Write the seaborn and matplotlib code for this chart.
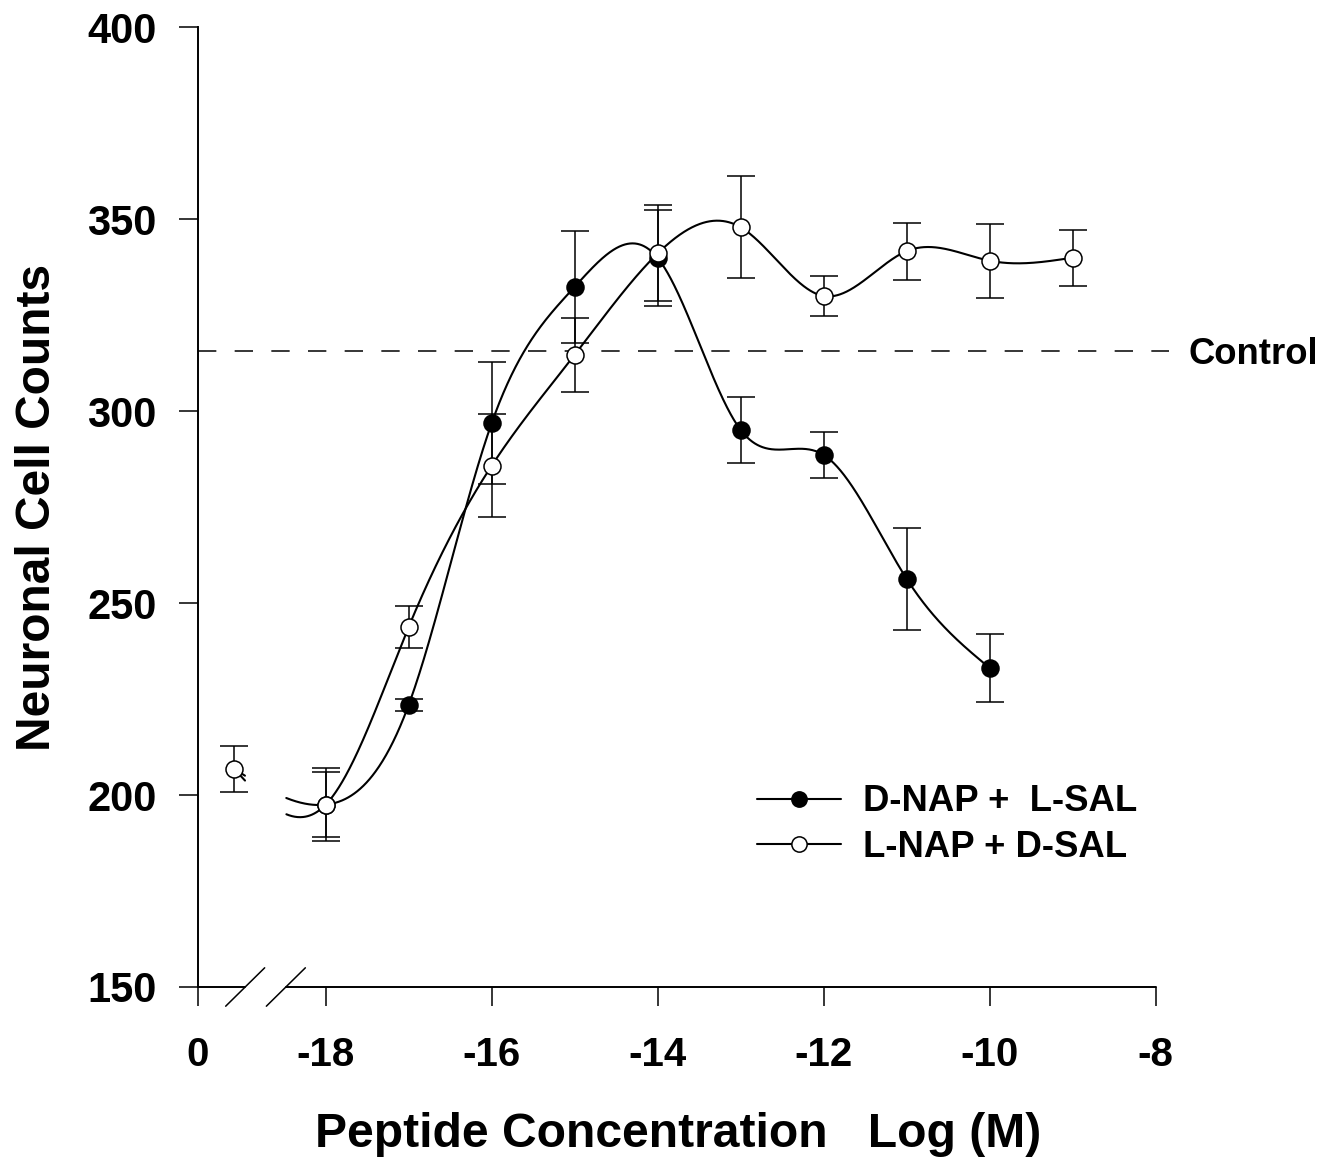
import numpy as np
import pandas as pd
import matplotlib
matplotlib.use("Agg")
import matplotlib.pyplot as plt
from matplotlib.lines import Line2D
import seaborn as sns

# ---------------- data ----------------
conc = [-18, -17, -16, -15, -14, -13, -12, -11, -10, -9]

dnap_x = [-18, -17, -16, -15, -14, -13, -12, -11, -10]
dnap_y = [197.5, 223.5, 296.9, 332.4, 339.9, 295.1, 288.6, 256.3, 233.1]
dnap_err = [8.5, 1.5, 15.8, 14.6, 12.4, 8.5, 6.1, 13.2, 8.9]

lnap_x = [-18, -17, -16, -15, -14, -13, -12, -11, -10, -9]
lnap_y = [197.5, 243.8, 285.8, 314.7, 341.1, 347.9, 330.0, 341.7, 339.2, 340.0]
lnap_err = [9.5, 5.5, 13.4, 9.6, 12.5, 13.3, 5.1, 7.4, 9.6, 7.3]

zero_y = 206.8      # value at concentration "0" (no peptide)
zero_err = 6.1
control_level = 315.7

series_names = ["D-NAP +  L-SAL", "L-NAP + D-SAL"]
x_tick_labels = ["0", "-18", "-16", "-14", "-12", "-10", "-8"]
y_ticks = [150, 200, 250, 300, 350, 400]

# ---------------- axis geometry (broken axis) ----------------
ZERO_POS = -19.542      # where the "0" tick sits on the continuous axis
ZERO_PT = -19.10        # where the zero-concentration point is drawn
GAP = (-18.97, -18.48)  # axis break

W, H = 1338, 1160
sns.set_style("ticks")
plt.rcParams["font.family"] = ["Liberation Sans", "DejaVu Sans"]
plt.rcParams["font.weight"] = "bold"
for k in ["text.color", "axes.labelcolor", "xtick.color", "ytick.color", "axes.edgecolor"]:
    plt.rcParams[k] = "black"

fig = plt.figure(figsize=(W / 100, H / 100), dpi=100)
left, right, top, bottom = 197.7, 1169.0, 27.3, 987.0
ax = fig.add_axes([left / W, 1 - bottom / H, (right - left) / W, (bottom - top) / H])
ax.set_xlim(ZERO_POS, -7.84)
ax.set_ylim(150, 400)


def natural_spline(x, y, xs):
    x = np.asarray(x, float); y = np.asarray(y, float)
    n = len(x); h = np.diff(x)
    A = np.zeros((n, n)); r = np.zeros(n)
    A[0, 0] = A[-1, -1] = 1
    for i in range(1, n - 1):
        A[i, i - 1] = h[i - 1]; A[i, i] = 2 * (h[i - 1] + h[i]); A[i, i + 1] = h[i]
        r[i] = 6 * ((y[i + 1] - y[i]) / h[i] - (y[i] - y[i - 1]) / h[i - 1])
    M = np.linalg.solve(A, r)
    idx = np.clip(np.searchsorted(x, xs) - 1, 0, n - 2)
    x0 = x[idx]; x1 = x[idx + 1]; hh = x1 - x0
    t0 = xs - x0; t1 = x1 - xs
    return (M[idx] * t1 ** 3 / (6 * hh) + M[idx + 1] * t0 ** 3 / (6 * hh)
            + (y[idx] / hh - M[idx] * hh / 6) * t1 + (y[idx + 1] / hh - M[idx + 1] * hh / 6) * t0)


def draw_curve(xv, yv):
    kx = [ZERO_PT] + list(xv)
    ky = [zero_y] + list(yv)
    xs = np.linspace(ZERO_PT, max(xv), 1500)
    ys = natural_spline(kx, ky, xs)
    for m in (xs <= GAP[0], xs >= GAP[1]):
        seg = pd.DataFrame({"x": xs[m], "y": ys[m]})
        sns.lineplot(data=seg, x="x", y="y", ax=ax, color="black", lw=1.5,
                     estimator=None, sort=False, zorder=2)


# control line
ax.axhline(control_level, color="black", lw=1.1, dashes=(12, 12), zorder=1)
ax.text(-7.6, control_level - 1.0, "Control", fontsize=26.3, fontweight="bold",
        va="center", ha="left", clip_on=False)

draw_curve(dnap_x, dnap_y)
draw_curve(lnap_x, lnap_y)

ekw = dict(fmt="none", ecolor="black", elinewidth=1.1, capsize=10, capthick=1.1, zorder=3)
ax.errorbar(dnap_x, dnap_y, yerr=dnap_err, **ekw)
ax.errorbar(lnap_x, lnap_y, yerr=lnap_err, **ekw)
ax.errorbar([ZERO_PT], [zero_y], yerr=[zero_err], **ekw)

df_d = pd.DataFrame({"x": dnap_x, "y": dnap_y})
df_l = pd.DataFrame({"x": [ZERO_PT] + lnap_x, "y": [zero_y] + lnap_y})
sns.scatterplot(data=df_d, x="x", y="y", ax=ax, s=150, color="black",
                edgecolor="black", linewidth=1.1, zorder=4, legend=False)
sns.scatterplot(data=df_l, x="x", y="y", ax=ax, s=150, color="white",
                edgecolor="black", linewidth=1.1, zorder=5, legend=False)

# ticks and spines
ax.set_xticks([ZERO_POS, -18, -16, -14, -12, -10, -8])
ax.set_xticklabels(x_tick_labels)
ax.set_yticks(y_ticks)
ax.set_yticklabels([str(v) for v in y_ticks])
ax.tick_params(axis="y", direction="out", length=13.5, width=1.1, pad=16, labelsize=30,
               color="black", labelcolor="black")
ax.tick_params(axis="x", direction="out", length=14, width=1.1, pad=21, labelsize=29,
               color="black", labelcolor="black")
for lab in ax.get_xticklabels() + ax.get_yticklabels():
    lab.set_fontweight("bold")
sns.despine(ax=ax, top=True, right=True)
ax.spines["bottom"].set_visible(False)
ax.spines["left"].set_linewidth(1.4)
ax.spines["left"].set_color("black")

# broken bottom axis
btrans = ax.get_xaxis_transform()
ax.plot([ZERO_POS, GAP[0]], [0, 0], transform=btrans, color="black", lw=1.4, clip_on=False)
ax.plot([GAP[1], -8], [0, 0], transform=btrans, color="black", lw=1.4, clip_on=False)
for gx in GAP:
    px = left + (gx - ZERO_POS) / (-7.84 - ZERO_POS) * (right - left)
    fig.add_artist(Line2D([(px - 19.5) / W, (px + 19.5) / W],
                          [1 - (bottom + 19.2) / H, 1 - (bottom - 19.2) / H],
                          transform=fig.transFigure, color="black", lw=1.1))

ax.set_xlabel("Peptide Concentration   Log (M)", fontsize=34.6, fontweight="bold", color="black")
ax.set_ylabel("Neuronal Cell Counts", fontsize=34.5, fontweight="bold", color="black")
ax.xaxis.set_label_coords((678 - left) / (right - left), (bottom - 1112) / (bottom - top))
ax.yaxis.set_label_coords((60 - left) / (right - left), 0.5)

handles = [
    Line2D([], [], color="black", lw=1.5, marker="o", markersize=11,
           markerfacecolor="black", markeredgecolor="black", markeredgewidth=1.1),
    Line2D([], [], color="black", lw=1.5, marker="o", markersize=11,
           markerfacecolor="white", markeredgecolor="black", markeredgewidth=1.1),
]
ax.legend(handles, series_names, loc="center left",
          bbox_to_anchor=(757 / W, 1 - 824.5 / H), bbox_transform=fig.transFigure,
          frameon=False, handlelength=2.3, handletextpad=0.6,
          labelspacing=0.28, borderpad=0, borderaxespad=0,
          prop={"weight": "bold", "size": 26.3}, labelcolor="black")

fig.savefig("out.png", dpi=100, facecolor="white")
